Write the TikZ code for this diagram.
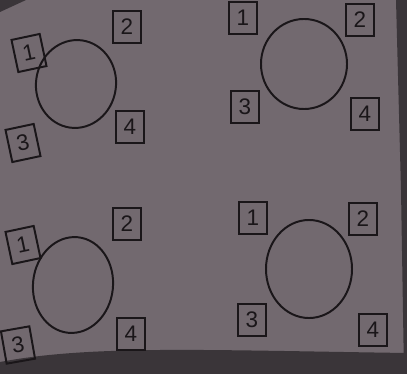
\documentclass[tikz,border=0pt]{standalone}
\usepackage{fontspec}
\setmainfont{Liberation Sans}
\usetikzlibrary{shapes.geometric}
\definecolor{pagegray}{RGB}{114,105,111}
\definecolor{edgegray}{RGB}{58,53,57}
\definecolor{inkgray}{RGB}{26,22,25}
\begin{document}
\begin{tikzpicture}[x=0.025cm, y=-0.025cm, font=\fontsize{16}{18}\selectfont,
    numbox/.style={draw=inkgray, line width=1.4pt, text=inkgray, minimum width=0.72cm, minimum height=0.82cm, inner sep=0pt},
    ring/.style={draw=inkgray, line width=1.4pt, ellipse, inner sep=0pt}]
        % Page and dark edges of the photo
        \fill[pagegray] (0,0) rectangle (407,374);
        \useasboundingbox (0,0) rectangle (407,374);
        \fill[edgegray] (0,0) -- (26,0) -- (0,12) -- cycle;
        \fill[edgegray] (396,0) -- (407,0) -- (407,374) -- (404,374) -- (401,190) -- cycle;
        \fill[edgegray] (0,362) .. controls (90,345) and (200,350) .. (407,353) -- (407,374) -- (0,374) -- cycle;
        
        % Top left
        \node[ring, minimum width=2cm, minimum height=2.2cm, rotate=-8] (ringA) at (76,84) {};
        \node[numbox, rotate=12] (a1) at (29,53) {1};
        \node[numbox] (a2) at (127,27) {2};
        \node[numbox, rotate=12] (a3) at (23,143) {3};
        \node[numbox] (a4) at (130,127) {4};
        
        % Top right
        \node[ring, minimum width=2.15cm, minimum height=2.25cm] (ringB) at (304,64) {};
        \node[numbox] (b1) at (243,18) {1};
        \node[numbox] (b2) at (360,20) {2};
        \node[numbox] (b3) at (245,107) {3};
        \node[numbox] (b4) at (365,114) {4};
        
        % Bottom left
        \node[ring, minimum width=2cm, minimum height=2.4cm, rotate=-6] (ringC) at (73,285) {};
        \node[numbox, rotate=12] (c1) at (23,245) {1};
        \node[numbox] (c2) at (127,224) {2};
        \node[numbox, rotate=10] (c3) at (18,345) {3};
        \node[numbox] (c4) at (131,334) {4};
        
        % Bottom right
        \node[ring, minimum width=2.15cm, minimum height=2.45cm] (ringD) at (309,269) {};
        \node[numbox] (d1) at (253,218) {1};
        \node[numbox] (d2) at (363,219) {2};
        \node[numbox] (d3) at (252,320) {3};
        \node[numbox] (d4) at (373,330) {4};
    \end{tikzpicture}
\end{document}
